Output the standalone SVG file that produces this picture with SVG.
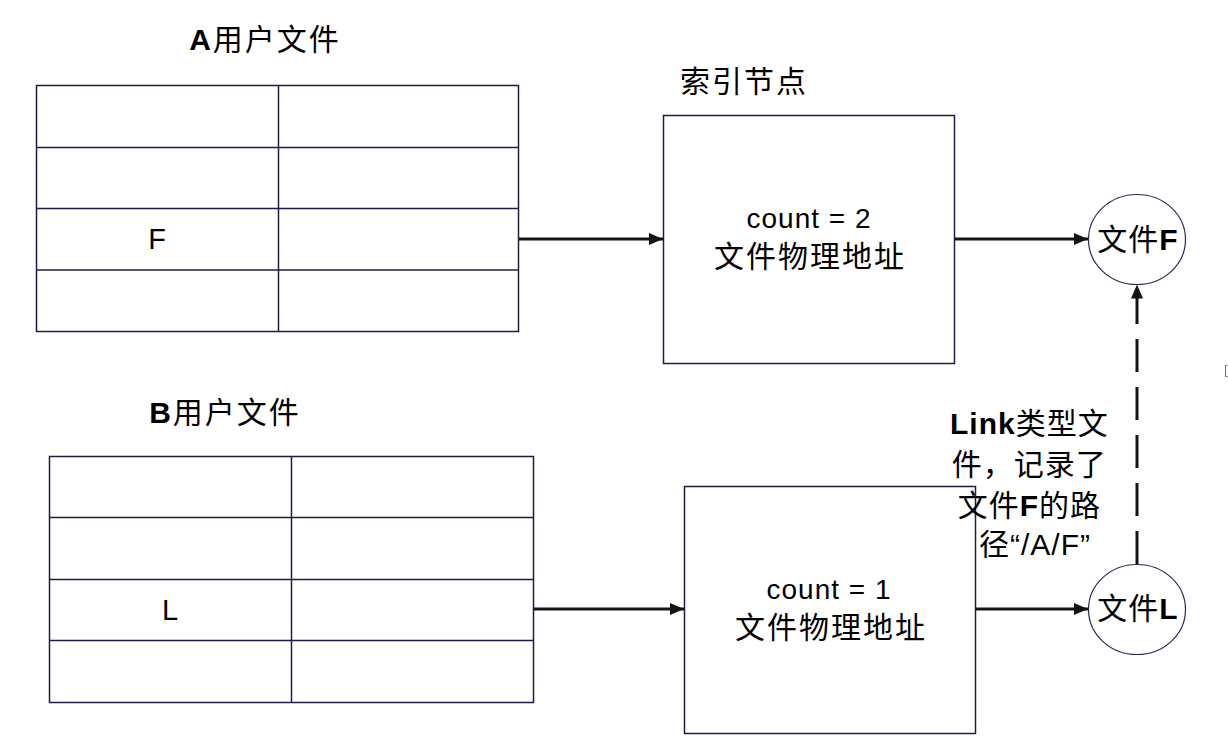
<svg xmlns="http://www.w3.org/2000/svg" width="1228" height="752" viewBox="0 0 1228 752">
<style>
.t{font-family:"Liberation Sans","Noto Sans CJK SC",sans-serif;fill:#000;}
.cell{fill:#fff;stroke:#1c1c48;stroke-width:1.5;}
.box{fill:#fff;stroke:#1c1c48;stroke-width:1.5;}
.circ{fill:#fff;stroke:#2a2a55;stroke-width:1.2;}
.conn{stroke:#141414;stroke-width:3;fill:none;}
.dash{stroke-dasharray:33 15;}
</style>
<defs>
<marker id="ah" viewBox="0 0 14 12" refX="14" refY="6" markerWidth="14" markerHeight="12" markerUnits="userSpaceOnUse" orient="auto">
<path d="M0,0 L14,6 L0,12 Z" fill="#141414"/>
</marker>
</defs>
<rect width="1228" height="752" fill="#fff"/>

<g id="tableA">
<text class="t" x="265" y="50" font-size="30" letter-spacing="2" text-anchor="middle"><tspan font-weight="bold">A</tspan>用户文件</text>
<rect class="cell" x="36.5" y="85.5" width="482" height="246"/>
<line class="cell" x1="278.5" y1="85.5" x2="278.5" y2="331.5"/>
<line class="cell" x1="36.5" y1="147.5" x2="518.5" y2="147.5"/>
<line class="cell" x1="36.5" y1="208.5" x2="518.5" y2="208.5"/>
<line class="cell" x1="36.5" y1="270" x2="518.5" y2="270"/>
<text class="t" x="157" y="249" font-size="29" text-anchor="middle">F</text>
</g>

<g id="tableB">
<text class="t" x="225" y="423" font-size="30" letter-spacing="2" text-anchor="middle"><tspan font-weight="bold">B</tspan>用户文件</text>
<rect class="cell" x="49.5" y="456.5" width="484" height="246"/>
<line class="cell" x1="291.5" y1="456.5" x2="291.5" y2="702.5"/>
<line class="cell" x1="49.5" y1="517.5" x2="533.5" y2="517.5"/>
<line class="cell" x1="49.5" y1="579.5" x2="533.5" y2="579.5"/>
<line class="cell" x1="49.5" y1="640.5" x2="533.5" y2="640.5"/>
<text class="t" x="170" y="620" font-size="29" text-anchor="middle">L</text>
</g>

<g id="inodeA">
<text class="t" x="744" y="92" font-size="30" letter-spacing="2" text-anchor="middle">索引节点</text>
<rect class="box" x="663.5" y="115.5" width="291" height="248"/>
<text class="t" x="809" y="228" font-size="28" letter-spacing="1" text-anchor="middle">count = 2</text>
<text class="t" x="810" y="267" font-size="30" letter-spacing="2" text-anchor="middle">文件物理地址</text>
</g>

<g id="inodeB">
<rect class="box" x="684.5" y="486.5" width="291" height="247"/>
<text class="t" x="829" y="599" font-size="28" letter-spacing="1" text-anchor="middle">count = 1</text>
<text class="t" x="831" y="638" font-size="30" letter-spacing="2" text-anchor="middle">文件物理地址</text>
</g>

<g id="fileF">
<ellipse class="circ" cx="1137" cy="239.5" rx="48.5" ry="45"/>
<text class="t" x="1138" y="250" font-size="30" letter-spacing="1" text-anchor="middle">文件<tspan font-weight="bold">F</tspan></text>
</g>

<g id="fileL">
<ellipse class="circ" cx="1137" cy="609.5" rx="48.5" ry="45"/>
<text class="t" x="1138" y="619" font-size="30" letter-spacing="1" text-anchor="middle">文件<tspan font-weight="bold">L</tspan></text>
</g>

<g id="linkNote">
<text class="t" font-size="30" letter-spacing="1" text-anchor="middle">
<tspan x="1034" y="434"><tspan font-weight="bold">Link</tspan>类型文</tspan>
<tspan x="1034" y="475">件，记录了</tspan>
<tspan x="1034" y="516">文件<tspan font-weight="bold">F</tspan>的路</tspan>
<tspan x="1035" y="555">径“/A/F”</tspan>
</text>
</g>

<g id="connectors">
<line class="conn" x1="519" y1="239" x2="663" y2="239" marker-end="url(#ah)"/>
<line class="conn" x1="955" y1="239" x2="1088" y2="239" marker-end="url(#ah)"/>
<line class="conn" x1="534" y1="609" x2="684" y2="609" marker-end="url(#ah)"/>
<line class="conn" x1="976" y1="609" x2="1088" y2="609" marker-end="url(#ah)"/>
<line class="conn dash" x1="1137" y1="564" x2="1137" y2="284.5" marker-end="url(#ah)"/>
</g>

<path d="M1227.5,365.5 H1225.5 V376.5 H1227.5" fill="none" stroke="#3a6fd0" stroke-width="1"/>
</svg>
